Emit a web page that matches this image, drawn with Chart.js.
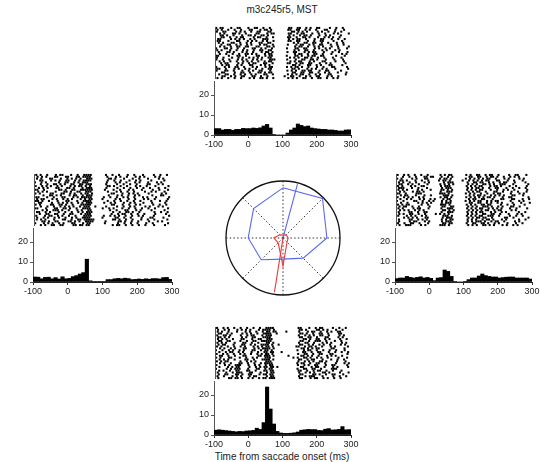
<!DOCTYPE html>
<html>
<head>
<meta charset="utf-8">
<script src="https://cdn.jsdelivr.net/npm/chart.js@4"></script>
<style>
body{margin:0;background:#fff;width:540px;height:462px;position:relative;overflow:hidden;font-family:"Liberation Sans",Arial,sans-serif;}
canvas{position:absolute;}
.lbl{position:absolute;font-size:10px;color:#222;white-space:nowrap;transform:translateX(-50%);}
</style>
</head>
<body>
<div class="lbl" style="left:282px;top:4px">m3c245r5, MST</div>
<div class="lbl" style="left:282px;top:451px">Time from saccade onset (ms)</div>
<script>
// spike times are coded one char per spike, 400 ms split over the alphabet,
// plus a per-trial fraction of one slot
const ALPH = '0123456789ABCDEFGHIJKLMNOPQRSTUVWXYZabcdefghijklmnopqrstuvwxyz';

const binStarts = [-100,-90,-80,-70,-60,-50,-40,-30,-20,-10,0,10,20,30,40,50,60,70,80,90,100,110,120,130,140,150,160,170,180,190,200,210,220,230,240,250,260,270,280,290];
const xTicks = [-100, 0, 100, 200, 300];
const yTicks = [0, 10, 20];

const histTop = [3.2,3.2,2.5,2.8,2.8,2.3,2.8,2.8,3.3,3.2, 3.2,3.5,3.3,3.6,4.5,5.3,3.5,0.3,0,0, 0,1,2.5,3.5,5.5,4.8,4.2,4.5,3.5,3.2, 3,2.8,2.8,2.5,2.5,2.3,2,2,2.5,2.6];
const histLeft = [2.5,2.4,1.6,2.3,2.4,1.6,2.2,1.5,2.6,1.6, 1.8,2.7,3.2,4.0,4.7,11.4,0.6,0.3,0.3,0.3, 0.3,1.2,1.2,1.6,1.8,1.6,1.9,1.7,1.2,1.3, 1.5,1.3,1.6,1.4,1.7,1.7,1.5,2.2,2.3,1.3];
const histRight = [1.7,2,2,2.8,2.3,2,2.3,2.6,2,2.3, 1.8,0.7,2,2.2,6,5.3,2.8,0.3,0,0, 0.2,1.2,2,2,3,4,3.2,2.8,2.5,2.5, 2,2.2,2.4,2.5,2.5,2,2,2,2,1.5];
const histBottom = [2.4,2.6,2.4,2.2,2,1.8,1.6,1.8,1.7,2, 2.1,2.3,3.4,2.8,6.2,24,13,5.5,1.8,1, 0.8,0.8,0.9,1.1,1.5,2.4,2.6,2.8,2.7,2.7, 2.3,2.2,2.9,3.2,2.5,2.6,2.8,4.2,2.6,2.7];

const rasterTop = [
"0237ABFIJMPYZcdgilmrux","0258BFGKMNPXYbcfhkoptx","0349BDGJKOPZaceglnqtw","1378ADIJNPQXYbdeilosuz",
"2358CFGILMOYadfgimprw","2369BCHJKNQXYbefhloqsv","1279BDGIMNOYacdgknosvy","0159AEGILNQXYbcgjmnsw",
"1378BEGKLOPacfgjknqux","2569BEGKMNQXbdehjmnrux","1369ADEIJNOQacdgjlnruz","0457ADHILNQXbcfgkmprvz",
"0269CEHKLOPacfgjnptv","1568CEHLNOQXabfhjkosvz","147ADEGIMOPacdgjknrwy","016ABEJKNPQXbcehjknouy",
"037ACFHJLOPYacfgilosw","036ACEHJLPQRXbefijlptx","1369CEGJMOPYacdhjnotx","245ACFHIMNQXYbdehimpry",
"2459BFGKMOZacghkmqrw","0469ADHJNPQXZbcehlostz","0148ADFILOPZacgiknptz","0458CFHKLPXZbefhimpqw",
"238BCFJKMOPZadehiloquy","1458BDGIMNQXZbdehkmqry","3479CDHILOWZadgilmqsv","0258BFHKLNQXZbefilmpsu"
];
const rasterLeft = [
"0259BCGJMNOPWZcgjnsvy","1359AEFJKMNOPXbdgkmotv","0267BEGIKNOPXYaeilpuw","2379BEFIKMNOPXadhkmrx",
"035BEFIKMNOXbdgkmquw","2589BDGHKLNOPWbehkpquw","0357ACGIKLNPXYadgkmptz","1359AEFHLNOPWbehknqux",
"014BCEHILMNOPQWadhjnsvz","1359DEGJKNOPXbdgjortx","0278CDGILNOQZaehjlqwy","3679BFHILNOPXbdgjlrvw",
"0158CDHJLMNOPVYbegjnptz","1348ADFHLNPQVbdhkoqtz","0136AEFJMNOPXadgjmrvy","127ACEGJLNOPVYaehjnrx",
"0278BCEHLMNOPZaehkmsvy","258BDFHKMNORWbehjoquw","0159ADEGJMNOPVYaehknqtz","3589ACFJLOPYbfgkmrx",
"0146ADGJLNOPZcfgilsvy","2569ADGHLNOPZcefiloty","0467ACFIMNOPVYacfilnsz","1469BEHJMNOPVbcfinrsx",
"0248CDGJKMNOPQZacfimpsy","3469AFGIKNOPQWcdfilquw","0468BDHIMOPWcfilpsz","2478BCHIKLNOZbcfilosx"
];
const rasterRight = [
"0358BEKMOPWYbcfhilqtuy","258CDFGKNPXbcfhiknqsuY","0279DEKMNPWaceghkoqvxY","1248BEJLMOXZbdfgklpswU",
"0258CELNOPWacdgilnosxZ","1257AEKMOQXbefhjmnosZz","0268BCKMNOWacdhjkmqtyY","1237AELNOPXZbcehklpsvy",
"0249BFKLNPWYacdhknpsy","1379ACKNOPXZbcfjknruy","0149ABKLMOWYadgjlmrvx","1348CFLMNPXbcehjlnrswZ",
"0357ACKMNPWaceghjnqrzY","146ACFHLNOXZadeimnrswz","0389CFHLNPWYacdgiklrvx","149BDFKMNOXYbcfhkmrvz",
"0245BEKLMOWYadeghmpsx","1347AFLMPQXbefgilnrsvZ","0279AEKNOPWacdgikmqtyY","1358ACLMOQXbdfgjlmrtZ",
"0569CDKNOPWYacdhjmoux","1367ADIKMOXZbefijmquw","0468BDLMNPWacdghilqtwY","3579DELNOPXZbcefiopsz",
"0569BDKMOPWYadfgimoux","1689DFLNOPXbcdfiklotvZ","0367AELMOPWZadegjlptw","1456BDKLMOXZbefhjnpsu"
];
const rasterBottom = [
"0358BEHKNOPQcdhkmnsvy","146ACEGKMNOPRdeglmoqux","0259DFILNOQRWcgijmpruv","1257CEGJMNOPSdegjmnqvw",
"0346BEGHLNOPcfhjmnqvx","1246CEHIMNOPdehilpqvx","0247BCGJKNOPefhkloqvy","1256BEHILMNOPdehklmptw",
"0248CDGJNOQcfgjnprwy","1348CDGILMNOQTdehjmorwy","0258BDHJLNOQbcfhiknrtz","1368CDHJLMNOQdegiklrsx",
"0368BDHILNOQcfhiloruy","1467ACGJMNPQUefilmqtwz","0358BDGJLNOQcfgjmnrsz","1258CDJKMNOQXdegilprtw",
"0267BEHJNOPacfgilnqvz","1358DEHLMNOQcdgijnrux","0245BEGINOPcfhjmnpuy","136ABEHKMNOPbdehklotxz",
"0469ABFIKNPQcfhklpstz","1579AFIKMNPQSdeiklosuz","0579ABFJKNPQcfgjknstu","1369AEFIMNPQcdgjlmpsw",
"0479ABFGKNPQcfhjnoqvz","1459ACFGKMNPQdejkmpstx","0379BFHINPQcfhijnsvy","1679ACFHKMNPQRdeikloqtw"
];
const shiftTop = [0.1,0.7,0.4,0.9,0.2,0.6,0.0,0.8,0.3,0.5,0.9,0.1,0.6,0.3,0.8,0.0,0.5,0.2,0.7,0.4,0.9,0.1,0.6,0.3,0.8,0.5,0.0,0.7];
const shiftLeft = [0.6,0.2,0.9,0.4,0.0,0.7,0.3,0.8,0.1,0.5,0.2,0.9,0.6,0.0,0.4,0.8,0.3,0.7,0.1,0.5,0.9,0.2,0.6,0.0,0.8,0.4,0.1,0.7];
const shiftRight = [0.3,0.8,0.1,0.6,0.9,0.2,0.5,0.0,0.7,0.4,0.1,0.8,0.3,0.6,0.0,0.9,0.5,0.2,0.7,0.4,0.8,0.1,0.6,0.3,0.9,0.0,0.5,0.2];
const shiftBottom = [0.5,0.0,0.8,0.3,0.6,0.1,0.9,0.4,0.7,0.2,0.5,0.9,0.0,0.6,0.3,0.8,0.1,0.7,0.4,0.9,0.2,0.6,0.0,0.5,0.8,0.3,0.7,0.1];

// polar plot: 8 saccade directions (deg), two tuning curves, two preferred-direction vectors
const polarDirs = [90, 45, 0, -45, -90, -135, 180, 135];
const blueR = [0.88, 0.98, 0.77, 0.50, 0.37, 0.54, 0.61, 0.73];
const redR = [0.05, 0.08, 0.09, 0.10, 0.49, 0.12, 0.16, 0.08];
const blueVec = [75, 0.98];
const redVec = [-99, 0.96];

const FONT = '"Liberation Sans", Arial, sans-serif';
const tickFont = {family: FONT, size: 9};
const BLUE = 'rgb(92,104,240)';
const RED = 'rgb(238,56,56)';

const addCanvas = (left, top, w, h) => {
    const c = document.createElement('canvas');
    c.width = w; c.height = h;
    c.style.left = left + 'px'; c.style.top = top + 'px';
    document.body.appendChild(c);
    return c;
};

const spikeTime = (ch, frac) => -100 + (ALPH.indexOf(ch) + frac) * 400 / ALPH.length;

const leftLine = {
    id: 'leftLine',
    afterDraw(chart) {
        const {ctx, chartArea: a} = chart;
        ctx.save();
        ctx.strokeStyle = '#555';
        ctx.lineWidth = 1;
        ctx.beginPath();
        ctx.moveTo(Math.round(a.left) - 0.5, a.top);
        ctx.lineTo(Math.round(a.left) - 0.5, a.bottom);
        ctx.stroke();
        ctx.restore();
    }
};

const makeRaster = (x0, y0, w, rows, shifts) => {
    const pts = [];
    rows.forEach((row, i) => {
        for (const ch of row) pts.push({x: spikeTime(ch, shifts[i]), y: rows.length - 1 - i});
    });
    new Chart(addCanvas(x0 - 2, y0 - 112, w + 4, 60), {
        type: 'scatter',
        data: {datasets: [{data: pts, pointStyle: 'rect', pointRadius: 1.45, backgroundColor: '#000', borderWidth: 0, clip: 3}]},
        options: {
            responsive: false, animation: false, events: [],
            layout: {padding: 2},
            plugins: {legend: {display: false}, tooltip: {enabled: false}},
            scales: {
                x: {type: 'linear', display: false, min: -100, max: 300},
                y: {type: 'linear', display: false, min: -0.5, max: rows.length - 0.5}
            }
        },
        plugins: [leftLine]
    });
};

const makeHist = (x0, y0, w, vals) => {
    new Chart(addCanvas(x0 - 30, y0 - 56, w + 42, 72), {
        type: 'bar',
        data: {datasets: [{
            data: binStarts.map((b, i) => ({x: b + 5, y: vals[i]})),
            backgroundColor: '#000', borderWidth: 0,
            barPercentage: 1, categoryPercentage: 1
        }]},
        options: {
            responsive: false, animation: false, events: [],
            layout: {padding: {top: 2, right: 12, left: 0, bottom: 0}},
            plugins: {legend: {display: false}, tooltip: {enabled: false}},
            scales: {
                x: {
                    type: 'linear', min: -100, max: 300, offset: false,
                    afterBuildTicks: s => { s.ticks = xTicks.map(v => ({value: v})); },
                    ticks: {font: tickFont, color: '#222', padding: 1, maxRotation: 0, autoSkip: false},
                    grid: {drawOnChartArea: false, tickLength: 3, color: '#333', offset: false},
                    border: {color: '#222'},
                    afterFit: s => { s.height = 16; s.paddingLeft = 0; s.paddingRight = 0; }
                },
                y: {
                    min: 0, max: 27,
                    afterBuildTicks: s => { s.ticks = yTicks.map(v => ({value: v})); },
                    ticks: {font: tickFont, color: '#222', padding: 2},
                    grid: {drawOnChartArea: false, tickLength: 3, color: '#555'},
                    border: {color: '#555'},
                    afterFit: s => { s.width = 30; s.paddingTop = 0; s.paddingBottom = 0; }
                }
            }
        }
    });
};

const panels = [
    {x0: 214, y0: 135, w: 137, raster: rasterTop, shift: shiftTop, hist: histTop},
    {x0: 33, y0: 282, w: 139, raster: rasterLeft, shift: shiftLeft, hist: histLeft},
    {x0: 395, y0: 282, w: 137, raster: rasterRight, shift: shiftRight, hist: histRight},
    {x0: 214, y0: 435, w: 137, raster: rasterBottom, shift: shiftBottom, hist: histBottom}
];
panels.forEach(p => {
    makeRaster(p.x0, p.y0, p.w, p.raster, p.shift);
    makeHist(p.x0, p.y0, p.w, p.hist);
});

// polar
const rad = d => d * Math.PI / 180;
const polarXY = (deg, r) => ({x: r * Math.cos(rad(deg)), y: r * Math.sin(rad(deg))});
const closedRing = radii => {
    const p = polarDirs.map((d, i) => polarXY(d, radii[i]));
    p.push(p[0]);
    return p;
};

const polarGrid = {
    id: 'polarGrid',
    beforeDatasetsDraw(chart) {
        const {ctx, scales: {x, y}} = chart;
        const cx = x.getPixelForValue(0), cy = y.getPixelForValue(0);
        const r = x.getPixelForValue(1) - cx;
        ctx.save();
        ctx.strokeStyle = '#333';
        ctx.lineWidth = 1;
        ctx.setLineDash([1.5, 2.2]);
        polarDirs.forEach(d => {
            ctx.beginPath();
            ctx.moveTo(cx, cy);
            ctx.lineTo(cx + r * Math.cos(rad(d)), cy - r * Math.sin(rad(d)));
            ctx.stroke();
        });
        ctx.setLineDash([]);
        ctx.strokeStyle = '#111';
        ctx.lineWidth = 1.3;
        ctx.beginPath();
        ctx.arc(cx, cy, r, 0, Math.PI * 2);
        ctx.stroke();
        ctx.restore();
    }
};

const lineSet = (pts, color) => ({data: pts, showLine: true, borderColor: color, borderWidth: 1.1, pointRadius: 0, fill: false, tension: 0});

new Chart(addCanvas(218, 173, 130, 130), {
    type: 'scatter',
    data: {datasets: [
        lineSet(closedRing(blueR), BLUE),
        lineSet([{x: 0, y: 0}, polarXY(blueVec[0], blueVec[1])], BLUE),
        lineSet(closedRing(redR), RED),
        lineSet([{x: 0, y: 0}, polarXY(redVec[0], redVec[1])], RED)
    ]},
    options: {
        responsive: false, animation: false, events: [],
        layout: {padding: 0},
        plugins: {legend: {display: false}, tooltip: {enabled: false}},
        scales: {
            x: {type: 'linear', display: false, min: -1.14, max: 1.14},
            y: {type: 'linear', display: false, min: -1.14, max: 1.14}
        }
    },
    plugins: [polarGrid]
});
</script>
</body>
</html>
